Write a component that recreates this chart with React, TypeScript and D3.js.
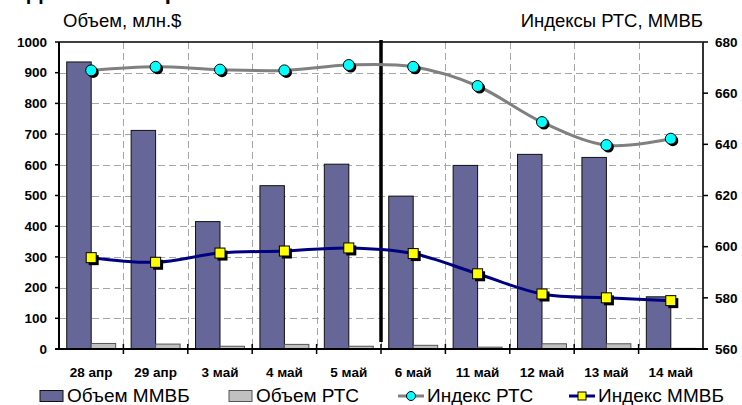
import React, { useEffect, useRef } from "react";
import * as d3 from "d3";

const categories = ["28 апр", "29 апр", "3 май", "4 май", "5 май", "6 май", "11 май", "12 май", "13 май", "14 май"];
const volMMVB = [935, 712, 415, 532, 602, 498, 598, 634, 624, 170];
const volRTS = [18, 16, 9, 15, 9, 12, 6, 17, 17, 2];
const idxRTS = [668.9, 670.3, 669.2, 668.9, 671, 670.3, 662.8, 648.7, 639.7, 642.2];
const idxMMVB = [595.7, 593.9, 597.5, 598.3, 599.5, 597.3, 589.4, 581.5, 580.0, 578.9];
const leftTicks = [0, 100, 200, 300, 400, 500, 600, 700, 800, 900, 1000];
const rightTicks = [560, 580, 600, 620, 640, 660, 680];
const legendLabels = ["Объем ММВБ", "Объем РТС", "Индекс РТС", "Индекс ММВБ"];

const W = 742;
const H = 405;
const plot = { left: 59, right: 703, top: 42, bottom: 349 };

const App = () => {
  const svgRef = useRef<SVGSVGElement>(null);

  useEffect(() => {
    const svg = d3.select(svgRef.current);
    svg.selectAll("*").remove();
    const font = "Arial, 'Liberation Sans', sans-serif";

    const x = d3.scaleBand().domain(categories).range([plot.left, plot.right]).padding(0);
    const bw = x.bandwidth();
    const xs = d3.scaleBand().domain(["mmvb", "rts"]).range([bw * 0.12, bw * 0.88]).padding(0);
    const yL = d3.scaleLinear().domain([0, 1000]).range([plot.bottom, plot.top]);
    const yR = d3.scaleLinear().domain([560, 680]).range([plot.bottom, plot.top]);
    const cx = (i: number) => (x(categories[i]) as number) + bw / 2;

    // heading that is cut off by the top edge (only descenders show)
    svg.append("text").attr("x", 27).attr("y", -1).attr("font-family", font)
      .attr("font-weight", "bold").attr("font-size", 22).attr("fill", "#000").text("Динамика торгов");

    // titles
    svg.append("text").attr("x", 63).attr("y", 27).attr("font-family", font)
      .attr("font-size", 18.5).attr("fill", "#000").text("Объем, млн.$");
    svg.append("text").attr("x", 703).attr("y", 27).attr("text-anchor", "end").attr("font-family", font)
      .attr("font-size", 18.5).attr("fill", "#000").text("Индексы РТС, ММВБ");

    // grid
    const grid = svg.append("g").attr("stroke", "#a6a6a6").attr("stroke-width", 1).attr("stroke-dasharray", "7,4");
    leftTicks.filter((t) => t > 0 && t < 1000).forEach((t) => {
      grid.append("line").attr("x1", plot.left).attr("x2", plot.right)
        .attr("y1", Math.round(yL(t)) + 0.5).attr("y2", Math.round(yL(t)) + 0.5);
    });
    categories.slice(1).forEach((c) => {
      const gx = Math.round(x(c) as number) + 0.5;
      grid.append("line").attr("x1", gx).attr("x2", gx).attr("y1", plot.top).attr("y2", plot.bottom);
    });

    // bars
    svg.append("g").selectAll("rect.m").data(volMMVB).join("rect")
      .attr("x", (d, i) => (x(categories[i]) as number) + (xs("mmvb") as number))
      .attr("y", (d) => yL(d)).attr("width", xs.bandwidth()).attr("height", (d) => plot.bottom - yL(d))
      .attr("fill", "#666699").attr("stroke", "#111").attr("stroke-width", 1);
    svg.append("g").selectAll("rect.r").data(volRTS).join("rect")
      .attr("x", (d, i) => (x(categories[i]) as number) + (xs("rts") as number))
      .attr("y", (d) => yL(d)).attr("width", xs.bandwidth()).attr("height", (d) => plot.bottom - yL(d))
      .attr("fill", "#c0c0c0").attr("stroke", "#555").attr("stroke-width", 1);

    // divider
    const divX = x(categories[5]) as number;
    svg.append("line").attr("x1", divX).attr("x2", divX).attr("y1", 40).attr("y2", 342)
      .attr("stroke", "#000").attr("stroke-width", 3.5);

    // lines
    const lineR = d3.line<number>().x((d, i) => cx(i)).y((d) => yR(d)).curve(d3.curveCatmullRom.alpha(0));
    svg.append("path").datum(idxRTS).attr("d", lineR).attr("fill", "none")
      .attr("stroke", "#808080").attr("stroke-width", 3);
    svg.append("path").datum(idxMMVB).attr("d", lineR).attr("fill", "none")
      .attr("stroke", "#000080").attr("stroke-width", 3);

    // markers with shadows
    const mk = svg.append("g");
    idxRTS.forEach((d, i) => {
      mk.append("circle").attr("cx", cx(i) + 2).attr("cy", yR(d) + 2).attr("r", 5.5).attr("fill", "#000");
      mk.append("circle").attr("cx", cx(i)).attr("cy", yR(d)).attr("r", 5.5)
        .attr("fill", "#00ffff").attr("stroke", "#000").attr("stroke-width", 1);
    });
    idxMMVB.forEach((d, i) => {
      mk.append("rect").attr("x", cx(i) - 4.5 + 2).attr("y", yR(d) - 4.5 + 2).attr("width", 10).attr("height", 10).attr("fill", "#000");
      mk.append("rect").attr("x", cx(i) - 5).attr("y", yR(d) - 5).attr("width", 10).attr("height", 10)
        .attr("fill", "#ffff00").attr("stroke", "#000").attr("stroke-width", 1);
    });

    // axes frame
    svg.append("line").attr("x1", plot.left).attr("x2", plot.right).attr("y1", plot.top).attr("y2", plot.top)
      .attr("stroke", "#000").attr("stroke-width", 1.5);
    svg.append("line").attr("x1", plot.left).attr("x2", plot.left).attr("y1", plot.top).attr("y2", plot.bottom)
      .attr("stroke", "#000").attr("stroke-width", 2);
    svg.append("line").attr("x1", plot.right).attr("x2", plot.right).attr("y1", plot.top).attr("y2", plot.bottom)
      .attr("stroke", "#333").attr("stroke-width", 2);
    svg.append("line").attr("x1", plot.left - 4).attr("x2", plot.right + 5).attr("y1", plot.bottom).attr("y2", plot.bottom)
      .attr("stroke", "#000").attr("stroke-width", 2);

    const ticks = svg.append("g").attr("stroke", "#000").attr("stroke-width", 1.5);
    leftTicks.forEach((t) => {
      ticks.append("line").attr("x1", plot.left - 4).attr("x2", plot.left).attr("y1", yL(t)).attr("y2", yL(t));
    });
    rightTicks.forEach((t) => {
      ticks.append("line").attr("x1", plot.right).attr("x2", plot.right + 5).attr("y1", yR(t)).attr("y2", yR(t));
    });
    categories.slice(1).forEach((c) => {
      const tx = x(c) as number;
      ticks.append("line").attr("x1", tx).attr("x2", tx).attr("y1", plot.bottom - 5).attr("y2", plot.bottom + 5);
    });

    // tick labels
    const lbl = svg.append("g").attr("font-family", font).attr("font-weight", "bold").attr("font-size", 13.5).attr("fill", "#000");
    leftTicks.forEach((t) => {
      lbl.append("text").attr("x", 47).attr("y", yL(t)).attr("dy", "0.35em").attr("text-anchor", "end").text(t);
    });
    rightTicks.forEach((t) => {
      lbl.append("text").attr("x", 715).attr("y", yR(t)).attr("dy", "0.35em").text(t);
    });
    categories.forEach((c, i) => {
      lbl.append("text").attr("x", cx(i)).attr("y", 377).attr("text-anchor", "middle").text(c);
    });

    // legend
    const lg = svg.append("g").attr("font-family", font).attr("font-size", 19).attr("fill", "#000");
    const ly = 396;
    const lb = 402;
    lg.append("rect").attr("x", 40).attr("y", ly - 5.5).attr("width", 23).attr("height", 11)
      .attr("fill", "#666699").attr("stroke", "#111");
    lg.append("text").attr("x", 67).attr("y", lb).text(legendLabels[0]);
    lg.append("rect").attr("x", 229).attr("y", ly - 5.5).attr("width", 23).attr("height", 11)
      .attr("fill", "#c0c0c0").attr("stroke", "#555");
    lg.append("text").attr("x", 256).attr("y", lb).text(legendLabels[1]);
    lg.append("line").attr("x1", 398).attr("x2", 424).attr("y1", ly).attr("y2", ly).attr("stroke", "#808080").attr("stroke-width", 3);
    lg.append("circle").attr("cx", 411).attr("cy", ly).attr("r", 4.5).attr("fill", "#00ffff").attr("stroke", "#000");
    lg.append("text").attr("x", 427).attr("y", lb).text(legendLabels[2]);
    lg.append("line").attr("x1", 569).attr("x2", 595).attr("y1", ly).attr("y2", ly).attr("stroke", "#000080").attr("stroke-width", 3);
    lg.append("rect").attr("x", 578).attr("y", ly - 4).attr("width", 8).attr("height", 8).attr("fill", "#ffff00").attr("stroke", "#000");
    lg.append("text").attr("x", 598).attr("y", lb).text(legendLabels[3]);
  }, []);

  return (
    <svg ref={svgRef} width={W} height={H}
      style={{ position: "absolute", left: 0, top: 0, background: "#fff" }} />
  );
};

export default App;
